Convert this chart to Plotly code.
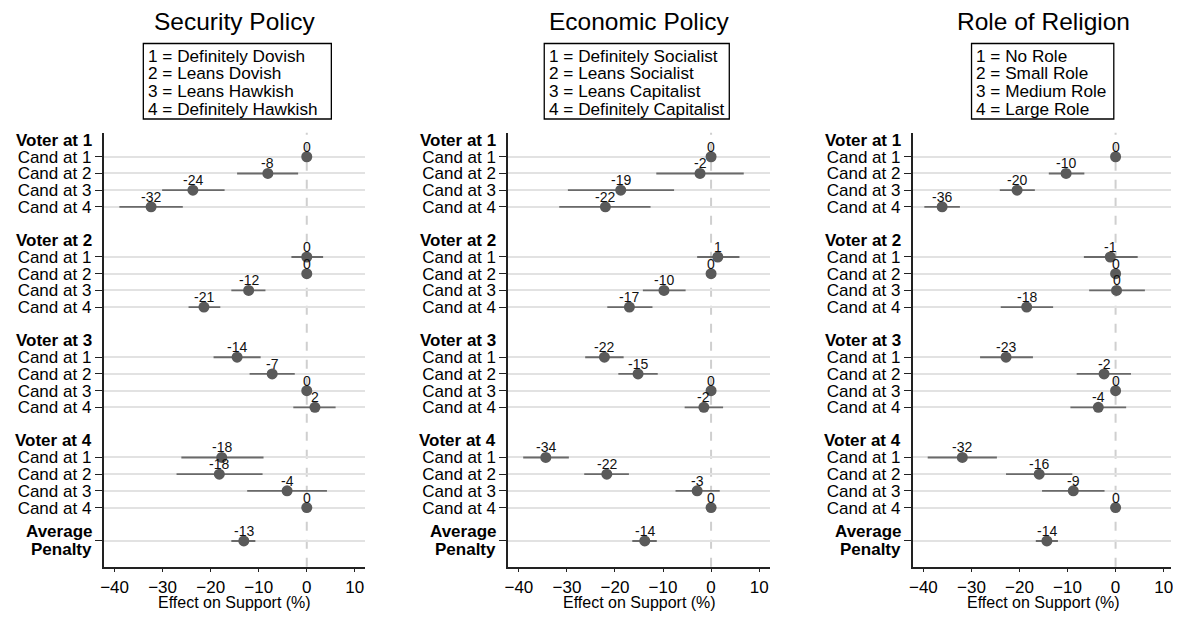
import plotly.graph_objects as go

# ---------------- data ----------------
panel_titles = ["Security Policy", "Economic Policy", "Role of Religion"]
legend_lines = [
    ["1 = Definitely Dovish", "2 = Leans Dovish", "3 = Leans Hawkish", "4 = Definitely Hawkish"],
    ["1 = Definitely Socialist", "2 = Leans Socialist", "3 = Leans Capitalist", "4 = Definitely Capitalist"],
    ["1 = No Role", "2 = Small Role", "3 = Medium Role", "4 = Large Role"],
]
voter_labels = ["Voter at 1", "Voter at 2", "Voter at 3", "Voter at 4"]
cand_labels = ["Cand at 1", "Cand at 2", "Cand at 3", "Cand at 4"]
avg_label = ["Average", "Penalty"]
x_title = "Effect on Support (%)"
x_ticks = [-40, -30, -20, -10, 0, 10]

# order: V1C1..V1C4, V2C1..V2C4, V3C1..V3C4, V4C1..V4C4, Average
security_est = [0, -8.1, -23.7, -32.4, 0, 0, -12.1, -21.4, -14.5, -7.2, 0, 1.7, -17.7, -18.2, -4.1, 0, -13.1]
security_lo = [None, -14.5, -30.1, -39.0, -3.2, None, -15.7, -24.6, -19.4, -11.9, None, -2.8, -26.1, -27.1, -12.4, None, -15.7]
security_hi = [None, -1.8, -17.1, -25.8, 3.4, None, -8.6, -18.0, -9.6, -2.5, None, 6.0, -9.0, -9.2, 4.2, None, -10.7]

economic_est = [0, -2.3, -18.8, -22.0, 1.4, 0, -9.8, -17.0, -22.2, -15.2, 0, -1.5, -34.4, -21.7, -2.9, 0, -13.8]
economic_lo = [None, -11.4, -29.8, -31.6, -2.9, None, -14.2, -21.6, -26.2, -19.3, None, -5.5, -39.1, -26.4, -7.4, None, -16.4]
economic_hi = [None, 6.8, -7.7, -12.6, 5.9, None, -5.3, -12.2, -18.2, -11.1, None, 2.5, -29.6, -17.1, 1.8, None, -11.3]

religion_est = [0, -10.3, -20.5, -36.1, -1.1, 0, 0.2, -18.5, -22.8, -2.4, 0, -3.6, -31.9, -15.9, -8.8, 0, -14.3]
religion_lo = [None, -13.9, -24.1, -39.8, -6.6, None, -5.5, -23.9, -28.2, -8.1, None, -9.4, -39.1, -22.8, -15.3, None, -16.6]
religion_hi = [None, -6.5, -16.8, -32.4, 4.6, None, 6.1, -13.0, -17.2, 3.2, None, 2.2, -24.7, -9.0, -2.3, None, -12.0]

panels = [
    (security_est, security_lo, security_hi),
    (economic_est, economic_lo, economic_hi),
    (religion_est, religion_lo, religion_hi),
]

# ---------------- layout geometry ----------------
W, H = 1181, 619
OFF = 8  # page body margin
FW, FH = W - 2 * OFF, H - 2 * OFF


def px_x(X):
    return min(1.0, max(0.0, (X - OFF) / FW))


def px_y(Y):
    return 1 - (Y - OFF) / FH


FONT = "Liberation Sans, Arial, Helvetica, sans-serif"
PXU = 4.83  # pixels per unit
zero_px = [304.3, 710.7, 1117.3]
left_px = [100, 506.7, 913.3]
right_px = [363, 770, min(1177, W - OFF)]
centre_px = [231.5, 638.3, 1045]
x_domains = [(px_x(l), px_x(r)) for l, r in zip(left_px, right_px)]
x_ranges = [[(l - z) / PXU, (r - z) / PXU] for l, r, z in zip(left_px, right_px, zero_px)]
y_domain = (px_y(566.7), px_y(132.7))
y_range = [25.54, -0.44]
legend_boxes = [(140, 329), (543, 729), (972.5, 1115.5)]
legend_box_y = (43.5, 119)
legend_line_y = [55.5, 73.2, 90.9, 108.6]

# rows
cand_rows = [6 * g + 1 + c for g in range(4) for c in range(4)]
avg_row = 24
data_rows = cand_rows + [avg_row]
voter_rows = [6 * g for g in range(4)]

MARK = "#5a5a5a"
CI = "#6a6a6a"
GRID = "#e2e2e2"

fig = go.Figure()
annotations = []
shapes = []

for i, (est, lo, hi) in enumerate(panels):
    xa = "x" if i == 0 else f"x{i+1}"
    ya = "y" if i == 0 else f"y{i+1}"
    plus = [(h - e) if h is not None else 0 for e, h in zip(est, hi)]
    minus = [(e - l) if l is not None else 0 for e, l in zip(est, lo)]
    fig.add_trace(go.Scatter(
        x=est, y=data_rows, mode="markers",
        marker=dict(size=11, color=MARK),
        error_x=dict(type="data", array=plus, arrayminus=minus, symmetric=False,
                     width=0, thickness=1.9, color=CI),
        xaxis=xa, yaxis=ya, showlegend=False, hoverinfo="x+y",
    ))
    # value labels
    for e, r in zip(est, data_rows):
        v = int(round(e))
        annotations.append(dict(
            x=e, y=r, xref=xa, yref=ya, text=str(v), showarrow=False,
            yshift=10, yanchor="middle", xanchor="center",
            font=dict(family=FONT, size=14, color="#111"),
        ))
    # voter labels
    for vl, r in zip(voter_labels, voter_rows):
        annotations.append(dict(
            x=0, y=r, xref=f"{xa} domain", yref=ya, text=f"<b>{vl}</b>", showarrow=False,
            xanchor="right", yanchor="middle", xshift=-10,
            font=dict(family=FONT, size=17, color="#000"),
        ))
    # average penalty label
    for k, t in enumerate(avg_label):
        annotations.append(dict(
            x=0, y=avg_row, xref=f"{xa} domain", yref=ya, text=f"<b>{t}</b>", showarrow=False,
            xanchor="right", yanchor="middle", xshift=-10, yshift=9 - 18 * k,
            font=dict(family=FONT, size=17, color="#000"),
        ))
    # title
    annotations.append(dict(
        x=px_x(centre_px[i]), y=px_y(21), xref="paper", yref="paper", text=panel_titles[i],
        showarrow=False, xanchor="center", yanchor="middle",
        font=dict(family=FONT, size=24.5, color="#000"),
    ))
    # x title
    annotations.append(dict(
        x=px_x(centre_px[i]), y=px_y(602.5), xref="paper", yref="paper", text=x_title,
        showarrow=False, xanchor="center", yanchor="middle",
        font=dict(family=FONT, size=16, color="#000"),
    ))
    # legend box
    bx0, bx1 = legend_boxes[i]
    shapes.append(dict(type="rect", xref="paper", yref="paper",
                       x0=px_x(bx0), x1=px_x(bx1), y0=px_y(legend_box_y[1]), y1=px_y(legend_box_y[0]),
                       line=dict(color="#000", width=1.3), fillcolor="rgba(0,0,0,0)"))
    for line, ly in zip(legend_lines[i], legend_line_y):
        annotations.append(dict(
            x=px_x(bx0 + 2.5), y=px_y(ly), xref="paper", yref="paper", text=line,
            showarrow=False, xanchor="left", yanchor="middle",
            font=dict(family=FONT, size=17.2, color="#000"),
        ))
    # zero dashed line
    shapes.append(dict(type="line", xref=xa, yref=f"{ya} domain", x0=0, x1=0, y0=0, y1=1,
                       line=dict(color="#cfcfcf", width=2, dash="dash"), layer="below"))

    axis_common = dict(linecolor="#222", linewidth=1.5, showline=True, ticks="outside",
                       tickcolor="#222", tickwidth=1.3, zeroline=False)
    fig.update_layout(**{
        ("xaxis" if i == 0 else f"xaxis{i+1}"): dict(
            domain=list(x_domains[i]), range=x_ranges[i], tickvals=x_ticks, showgrid=False,
            ticklen=4, anchor=ya, ticklabeloverflow="allow",
            tickfont=dict(family=FONT, size=17, color="#000"),
            **axis_common),
        ("yaxis" if i == 0 else f"yaxis{i+1}"): dict(
            domain=list(y_domain), range=y_range, tickvals=data_rows,
            ticktext=cand_labels * 4 + [""], showgrid=True, gridcolor=GRID, gridwidth=1.6,
            ticklen=7, anchor=xa, tickfont=dict(family=FONT, size=17, color="#000"),
            **axis_common),
    })

fig.update_layout(
    width=FW, height=FH, margin=dict(l=0, r=0, t=0, b=0),
    paper_bgcolor="white", plot_bgcolor="white",
    annotations=annotations, shapes=shapes, showlegend=False,
    font=dict(family=FONT),
)

fig.write_html("out.html")
